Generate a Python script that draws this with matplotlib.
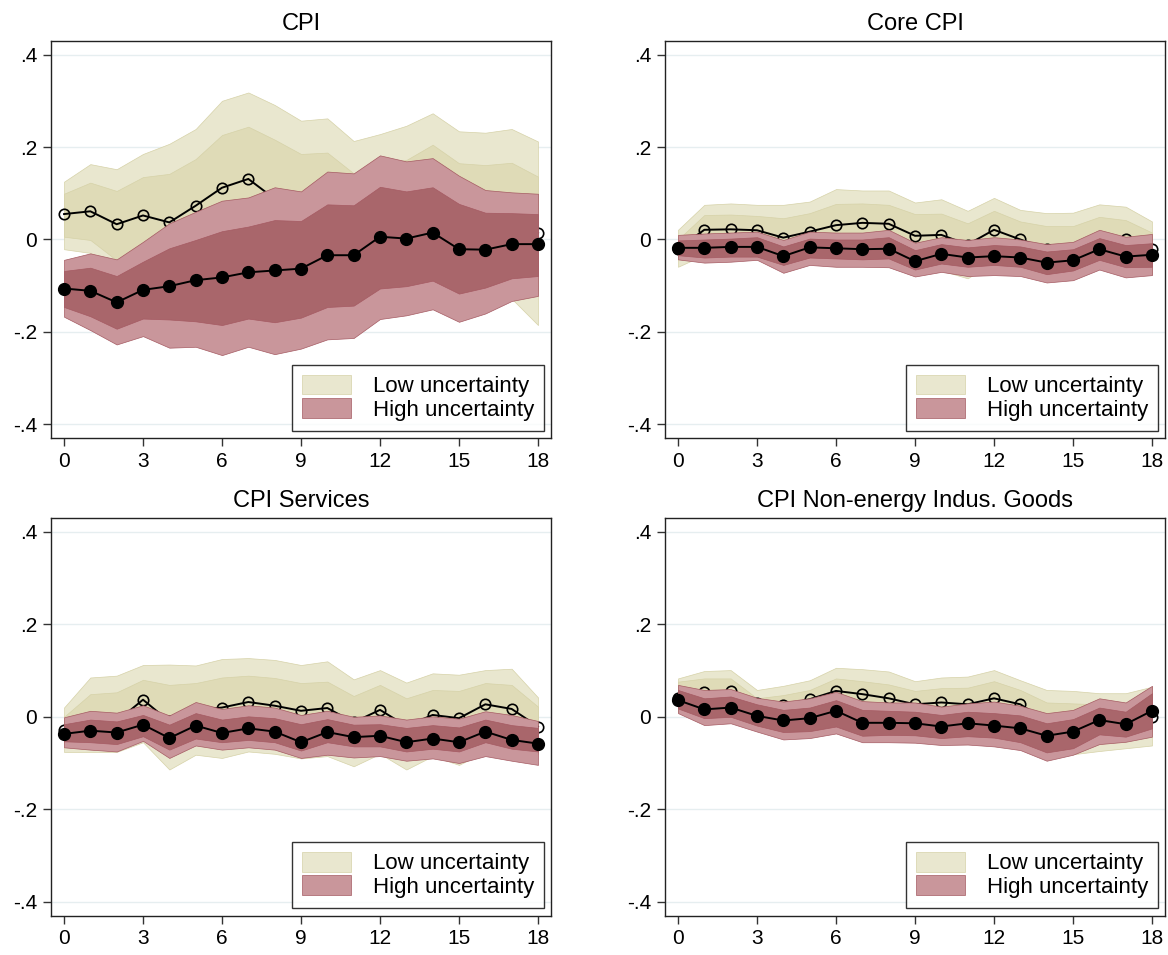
import matplotlib
matplotlib.use("Agg")
import matplotlib.pyplot as plt
from matplotlib.patches import Patch
import numpy as np

plt.rcParams['font.family'] = ['Liberation Sans', 'DejaVu Sans']

horizon = list(range(19))
xticks = [0, 3, 6, 9, 12, 15, 18]
yticks = [-0.4, -0.2, 0.0, 0.2, 0.4]
ytick_labels = ["-.4", "-.2", "0", ".2", ".4"]
legend_labels = ["Low uncertainty", "High uncertainty"]
titles = ["CPI", "Core CPI", "CPI Services", "CPI Non-energy Indus. Goods"]

# ---- CPI ----
cpi_low_mean = [0.055, 0.061, 0.033, 0.052, 0.037, 0.073, 0.112, 0.131, 0.088, 0.080, 0.085, 0.060, 0.070, 0.075, 0.080, 0.050, 0.045, 0.052, 0.014]
cpi_low_out_hi = [0.125, 0.163, 0.152, 0.185, 0.207, 0.239, 0.300, 0.318, 0.291, 0.257, 0.262, 0.213, 0.228, 0.246, 0.273, 0.234, 0.231, 0.239, 0.212]
cpi_low_in_hi = [0.099, 0.123, 0.105, 0.135, 0.142, 0.174, 0.226, 0.244, 0.216, 0.185, 0.188, 0.143, 0.165, 0.172, 0.205, 0.165, 0.161, 0.166, 0.136]
cpi_low_in_lo = [0.006, -0.001, -0.045, -0.030, -0.060, -0.030, 0.000, 0.020, 0.000, -0.010, -0.010, -0.040, -0.030, -0.020, -0.040, -0.060, -0.070, -0.060, -0.110]
cpi_low_out_lo = [-0.021, -0.029, -0.060, -0.080, -0.120, -0.090, -0.070, -0.050, -0.060, -0.070, -0.080, -0.100, -0.090, -0.090, -0.100, -0.130, -0.140, -0.128, -0.185]
cpi_high_mean = [-0.106, -0.111, -0.136, -0.109, -0.101, -0.088, -0.082, -0.071, -0.067, -0.063, -0.034, -0.034, 0.006, 0.002, 0.015, -0.021, -0.022, -0.010, -0.010]
cpi_high_out_hi = [-0.044, -0.030, -0.043, -0.005, 0.035, 0.060, 0.084, 0.091, 0.113, 0.104, 0.147, 0.143, 0.182, 0.169, 0.176, 0.138, 0.107, 0.102, 0.099]
cpi_high_in_hi = [-0.068, -0.061, -0.079, -0.048, -0.019, -0.001, 0.018, 0.028, 0.042, 0.040, 0.076, 0.074, 0.114, 0.104, 0.113, 0.077, 0.058, 0.057, 0.055]
cpi_high_in_lo = [-0.146, -0.166, -0.193, -0.171, -0.173, -0.177, -0.185, -0.171, -0.179, -0.169, -0.146, -0.143, -0.106, -0.101, -0.089, -0.117, -0.104, -0.084, -0.079]
cpi_high_out_lo = [-0.167, -0.196, -0.227, -0.209, -0.234, -0.232, -0.250, -0.232, -0.248, -0.236, -0.216, -0.213, -0.172, -0.164, -0.151, -0.178, -0.160, -0.133, -0.122]

# ---- Core CPI ----
core_low_mean = [-0.020, 0.021, 0.022, 0.020, 0.004, 0.017, 0.031, 0.036, 0.034, 0.008, 0.010, -0.011, 0.021, 0.000, -0.020, -0.020, -0.005, 0.000, -0.020]
core_low_out_hi = [0.021, 0.075, 0.078, 0.075, 0.075, 0.082, 0.109, 0.106, 0.106, 0.080, 0.087, 0.062, 0.090, 0.064, 0.057, 0.058, 0.076, 0.071, 0.039]
core_low_in_hi = [0.000, 0.053, 0.054, 0.051, 0.046, 0.057, 0.077, 0.078, 0.075, 0.055, 0.056, 0.035, 0.062, 0.039, 0.029, 0.029, 0.049, 0.042, 0.015]
core_low_in_lo = [-0.040, -0.011, -0.010, -0.011, -0.038, -0.023, -0.015, -0.006, -0.007, -0.039, -0.036, -0.057, -0.020, -0.039, -0.069, -0.069, -0.059, -0.042, -0.055]
core_low_out_lo = [-0.059, -0.033, -0.034, -0.035, -0.067, -0.048, -0.047, -0.034, -0.038, -0.064, -0.067, -0.084, -0.048, -0.064, -0.085, -0.080, -0.060, -0.070, -0.075]
core_high_mean = [-0.018, -0.018, -0.016, -0.016, -0.036, -0.017, -0.019, -0.021, -0.020, -0.047, -0.031, -0.039, -0.036, -0.039, -0.050, -0.045, -0.021, -0.037, -0.033]
core_high_out_hi = [0.010, 0.013, 0.015, 0.017, -0.001, 0.017, 0.015, 0.015, 0.021, -0.007, 0.005, -0.001, 0.005, 0.000, -0.010, -0.005, 0.021, 0.006, 0.012]
core_high_in_hi = [-0.002, 0.000, 0.002, 0.005, -0.015, 0.002, 0.000, 0.000, 0.005, -0.023, -0.010, -0.017, -0.012, -0.015, -0.026, -0.021, 0.003, -0.012, -0.008]
core_high_in_lo = [-0.034, -0.039, -0.037, -0.037, -0.055, -0.039, -0.041, -0.043, -0.041, -0.065, -0.052, -0.059, -0.055, -0.059, -0.075, -0.067, -0.044, -0.060, -0.059]
core_high_out_lo = [-0.043, -0.050, -0.048, -0.044, -0.072, -0.055, -0.059, -0.059, -0.060, -0.080, -0.070, -0.079, -0.077, -0.079, -0.093, -0.088, -0.065, -0.082, -0.077]

# ---- CPI Services ----
serv_low_mean = [-0.028, -0.010, -0.010, 0.037, -0.010, 0.015, 0.020, 0.032, 0.024, 0.013, 0.019, -0.012, 0.015, -0.020, 0.004, -0.003, 0.027, 0.017, -0.021]
serv_low_out_hi = [0.020, 0.085, 0.089, 0.112, 0.113, 0.111, 0.125, 0.127, 0.123, 0.112, 0.120, 0.081, 0.101, 0.074, 0.094, 0.091, 0.101, 0.104, 0.042]
serv_low_in_hi = [0.000, 0.049, 0.053, 0.080, 0.069, 0.073, 0.085, 0.089, 0.084, 0.073, 0.076, 0.045, 0.069, 0.040, 0.058, 0.056, 0.073, 0.069, 0.022]
serv_low_in_lo = [-0.056, -0.060, -0.060, -0.010, -0.070, -0.040, -0.045, -0.025, -0.035, -0.045, -0.040, -0.070, -0.040, -0.080, -0.050, -0.060, -0.020, -0.035, -0.060]
serv_low_out_lo = [-0.076, -0.076, -0.076, -0.055, -0.114, -0.082, -0.089, -0.075, -0.080, -0.090, -0.085, -0.107, -0.080, -0.114, -0.085, -0.104, -0.075, -0.070, -0.080]
serv_high_mean = [-0.037, -0.030, -0.034, -0.017, -0.046, -0.019, -0.035, -0.025, -0.032, -0.055, -0.033, -0.044, -0.041, -0.055, -0.047, -0.055, -0.032, -0.050, -0.058]
serv_high_out_hi = [-0.001, 0.013, 0.009, 0.025, 0.003, 0.032, 0.017, 0.025, 0.020, 0.004, 0.013, 0.000, 0.003, -0.006, 0.001, -0.004, 0.012, 0.004, -0.009]
serv_high_in_hi = [-0.016, -0.006, -0.010, 0.004, -0.017, 0.008, -0.006, 0.001, -0.003, -0.016, -0.005, -0.017, -0.016, -0.024, -0.018, -0.023, -0.006, -0.018, -0.024]
serv_high_in_lo = [-0.053, -0.055, -0.059, -0.042, -0.071, -0.047, -0.055, -0.050, -0.055, -0.073, -0.055, -0.064, -0.064, -0.075, -0.069, -0.075, -0.055, -0.069, -0.075]
serv_high_out_lo = [-0.066, -0.071, -0.075, -0.052, -0.089, -0.062, -0.071, -0.066, -0.071, -0.089, -0.082, -0.088, -0.085, -0.095, -0.090, -0.100, -0.085, -0.095, -0.104]

# ---- CPI Non-energy Industrial Goods ----
neig_low_mean = [0.040, 0.053, 0.056, 0.030, 0.025, 0.038, 0.056, 0.049, 0.040, 0.027, 0.031, 0.027, 0.040, 0.027, -0.010, -0.015, -0.010, -0.010, 0.000]
neig_low_out_hi = [0.083, 0.099, 0.101, 0.058, 0.067, 0.079, 0.106, 0.103, 0.098, 0.077, 0.085, 0.087, 0.101, 0.079, 0.058, 0.056, 0.051, 0.051, 0.065]
neig_low_in_hi = [0.076, 0.083, 0.083, 0.040, 0.047, 0.058, 0.083, 0.077, 0.070, 0.056, 0.062, 0.063, 0.077, 0.058, 0.031, 0.029, 0.027, 0.024, 0.030]
neig_low_in_lo = [0.012, 0.020, 0.030, 0.020, 0.000, 0.018, 0.030, 0.020, 0.010, 0.000, 0.000, -0.010, 0.003, -0.004, -0.050, -0.060, -0.047, -0.044, -0.030]
neig_low_out_lo = [0.010, 0.007, 0.011, 0.000, -0.017, -0.003, 0.006, -0.005, -0.018, -0.023, -0.023, -0.033, -0.021, -0.025, -0.078, -0.081, -0.074, -0.068, -0.062]
neig_high_mean = [0.036, 0.016, 0.020, 0.002, -0.008, -0.003, 0.013, -0.013, -0.013, -0.014, -0.021, -0.014, -0.019, -0.025, -0.041, -0.032, -0.007, -0.016, 0.013]
neig_high_out_hi = [0.069, 0.058, 0.060, 0.041, 0.033, 0.040, 0.054, 0.034, 0.031, 0.031, 0.022, 0.029, 0.033, 0.024, 0.008, 0.015, 0.040, 0.031, 0.067]
neig_high_in_hi = [0.058, 0.040, 0.044, 0.027, 0.015, 0.020, 0.036, 0.015, 0.013, 0.011, 0.004, 0.011, 0.008, 0.003, -0.014, -0.005, 0.020, 0.011, 0.051]
neig_high_in_lo = [0.018, -0.003, 0.000, -0.019, -0.033, -0.031, -0.021, -0.041, -0.039, -0.040, -0.046, -0.042, -0.045, -0.055, -0.077, -0.068, -0.038, -0.043, -0.025]
neig_high_out_lo = [0.008, -0.018, -0.014, -0.032, -0.049, -0.046, -0.036, -0.055, -0.055, -0.056, -0.061, -0.060, -0.064, -0.072, -0.095, -0.082, -0.059, -0.054, -0.043]

panels = [
    (cpi_low_mean, cpi_low_out_lo, cpi_low_out_hi, cpi_low_in_lo, cpi_low_in_hi,
     cpi_high_mean, cpi_high_out_lo, cpi_high_out_hi, cpi_high_in_lo, cpi_high_in_hi),
    (core_low_mean, core_low_out_lo, core_low_out_hi, core_low_in_lo, core_low_in_hi,
     core_high_mean, core_high_out_lo, core_high_out_hi, core_high_in_lo, core_high_in_hi),
    (serv_low_mean, serv_low_out_lo, serv_low_out_hi, serv_low_in_lo, serv_low_in_hi,
     serv_high_mean, serv_high_out_lo, serv_high_out_hi, serv_high_in_lo, serv_high_in_hi),
    (neig_low_mean, neig_low_out_lo, neig_low_out_hi, neig_low_in_lo, neig_low_in_hi,
     neig_high_mean, neig_high_out_lo, neig_high_out_hi, neig_high_in_lo, neig_high_in_hi),
]

tan_out, tan_in = "#e9e7cf", "#dfdbb7"
tan_edge = "#d6d2a8"
pink_out, pink_in = "#c9969b", "#a9666b"
pink_edge = "#a55a62"

W, H = 1168, 955
fig = plt.figure(figsize=(W / 100, H / 100), dpi=100)

ax_w, ax_h = 500 / W, 397.6 / H
lefts = [51 / W, 665 / W]
bottoms = [1 - 438.3 / H, 1 - 915.6 / H]

for i, (title, data) in enumerate(zip(titles, panels)):
    row, col = divmod(i, 2)
    ax = fig.add_axes([lefts[col], bottoms[row], ax_w, ax_h])
    (lm, lol, loh, lil, lih, hm, hol, hoh, hil, hih) = data
    x = np.array(horizon)

    for yv in yticks:
        ax.axhline(yv, color="#e6eef0", lw=1.0, zorder=0)

    ax.fill_between(x, lol, loh, facecolor=tan_out, edgecolor=tan_edge, lw=0.5, zorder=1)
    ax.fill_between(x, lil, lih, facecolor=tan_in, edgecolor=tan_edge, lw=0.5, zorder=2)
    ax.plot(x, lm, color="black", lw=1.4, marker="o", ms=7.5, mfc="none",
            mec="black", mew=1.2, zorder=3)
    ax.fill_between(x, hol, hoh, facecolor=pink_out, edgecolor=pink_edge, lw=0.5, zorder=4)
    ax.fill_between(x, hil, hih, facecolor=pink_in, edgecolor=pink_edge, lw=0.5, zorder=5)
    ax.plot(x, hm, color="black", lw=1.4, marker="o", ms=8.5, mfc="black",
            mec="black", zorder=6)

    ax.set_xlim(-0.494, 18.494)
    ax.set_ylim(-0.43, 0.43)
    ax.set_xticks(xticks)
    ax.set_xticklabels([str(t) for t in xticks])
    ax.set_yticks(yticks)
    ax.set_yticklabels(ytick_labels)
    ax.tick_params(axis="both", direction="out", length=6, width=1.0,
                   color="#333333", labelsize=15, labelcolor="black")
    ax.tick_params(axis="x", pad=4)
    ax.tick_params(axis="y", pad=4)
    for s in ax.spines.values():
        s.set_color("#222222")
        s.set_linewidth(1.0)
    ax.set_title(title, fontsize=17, pad=8)

    handles = [Patch(facecolor=tan_out, edgecolor=tan_edge, lw=0.5),
               Patch(facecolor=pink_out, edgecolor=pink_edge, lw=0.5)]
    leg = ax.legend(handles, legend_labels, loc="lower right",
                    bbox_to_anchor=(0.986, 0.019), borderaxespad=0,
                    fontsize=16, frameon=True, fancybox=False, shadow=False,
                    handlelength=2.2, handleheight=1.0, handletextpad=1.0,
                    labelspacing=0.05, borderpad=0.45)
    leg.get_frame().set_edgecolor("black")
    leg.get_frame().set_linewidth(1.0)
    leg.set_zorder(10)

fig.savefig("out.png", dpi=100, facecolor="white")
